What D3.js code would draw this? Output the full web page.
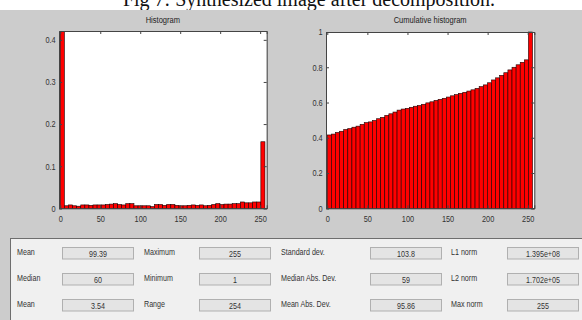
<!DOCTYPE html>
<html>
<head>
<meta charset="utf-8">
<script src="https://cdn.jsdelivr.net/npm/d3@7"></script>
<style>
  body { margin: 0; background: #fff; }
  svg { display: block; }
  .ui { font-family: "Liberation Sans", Arial, sans-serif; }
</style>
</head>
<body>
<svg id="fig" width="582" height="320"></svg>
<script>
// histogram (fraction of pixels per bin, 50 bins over 0..256)
const histValues = [
  0.420, 0.006, 0.008, 0.006, 0.005, 0.008, 0.008, 0.007, 0.008, 0.008,
  0.008, 0.009, 0.010, 0.011, 0.009, 0.008, 0.011, 0.011, 0.006, 0.006,
  0.006, 0.006, 0.004, 0.009, 0.009, 0.007, 0.009, 0.009, 0.007, 0.006,
  0.006, 0.007, 0.008, 0.007, 0.008, 0.006, 0.007, 0.009, 0.011, 0.009,
  0.010, 0.010, 0.011, 0.011, 0.015, 0.013, 0.013, 0.015, 0.015, 0.158
];
// cumulative histogram
const cumValues = [
  0.416, 0.421, 0.430, 0.437, 0.447, 0.452, 0.460, 0.466, 0.476, 0.486,
  0.490, 0.498, 0.508, 0.516, 0.527, 0.536, 0.546, 0.557, 0.563, 0.567,
  0.573, 0.579, 0.583, 0.590, 0.598, 0.604, 0.612, 0.618, 0.624, 0.631,
  0.638, 0.645, 0.652, 0.658, 0.665, 0.672, 0.680, 0.690, 0.700, 0.712,
  0.728, 0.740, 0.754, 0.769, 0.785, 0.800, 0.814, 0.828, 0.842, 1.000
];
const binWidth = 256 / 50;

const xTicks = [0, 50, 100, 150, 200, 250];
const histTicks = [0, 0.1, 0.2, 0.3, 0.4];
const cumTicks = [0, 0.2, 0.4, 0.6, 0.8, 1];

const statLabels = [
  ['Mean', 'Median', 'Mean'],
  ['Maximum', 'Minimum', 'Range'],
  ['Standard dev.', 'Median Abs. Dev.', 'Mean Abs. Dev.'],
  ['L1 norm', 'L2 norm', 'Max norm']
];
const statValues = [
  ['99.39', '60', '3.54'],
  ['255', '1', '254'],
  ['103.8', '59', '95.86'],
  ['1.395e+08', '1.702e+05', '255']
];

const sx = 0.84; // narrow look of the GUI font
const svg = d3.select('#fig');

function narrowText(parent, x, y, str, size, anchor) {
  return parent.append('text')
    .attr('class', 'ui')
    .attr('transform', `translate(${x},${y}) scale(${sx},1)`)
    .attr('text-anchor', anchor || 'start')
    .attr('font-size', size)
    .attr('fill', '#333')
    .text(str);
}

// caption (clipped at the top of the crop, as in the source)
svg.append('text')
  .attr('x', 309).attr('y', 6)
  .attr('text-anchor', 'middle')
  .attr('font-family', '"Liberation Serif", "Times New Roman", serif')
  .attr('font-size', 20)
  .attr('fill', '#111')
  .text('Fig 7: Synthesized image after decomposition.');

// figure background
svg.append('rect')
  .attr('x', 0).attr('y', 10).attr('width', 582).attr('height', 310)
  .attr('fill', '#cccccc');

function drawPanel(opts) {
  const x = d3.scaleLinear().domain([-1.6, 258.2]).range([opts.left, opts.right]);
  const y = d3.scaleLinear().domain([0, opts.yMax]).range([208.3, opts.top]);
  const g = svg.append('g');

  g.append('rect')
    .attr('x', opts.left).attr('y', opts.top)
    .attr('width', opts.right - opts.left).attr('height', 208.3 - opts.top)
    .attr('fill', '#fff');

  g.selectAll('rect.bar').data(opts.values)
    .enter().append('rect')
    .attr('class', 'bar')
    .attr('x', (d, i) => x(i * binWidth))
    .attr('width', (d, i) => x((i + 1) * binWidth) - x(i * binWidth))
    .attr('y', d => y(d))
    .attr('height', d => y(0) - y(d))
    .attr('fill', '#ff0000')
    .attr('stroke', '#1a0000')
    .attr('stroke-width', 0.6);

  const font = g => g.attr('class', 'ui').attr('font-family', null).attr('font-size', 8.8);

  g.append('g').attr('transform', `translate(${opts.left},0)`)
    .call(d3.axisLeft(y).tickValues(opts.yTicks).tickFormat(d3.format('~g')).tickSize(-3).tickPadding(4))
    .call(font);
  g.append('g').attr('transform', `translate(${opts.right},0)`)
    .call(d3.axisRight(y).tickValues(opts.yTicks).tickFormat('').tickSize(-3))
    .call(font);
  g.append('g').attr('transform', 'translate(0,208.3)')
    .call(d3.axisBottom(x).tickValues(xTicks).tickSize(-3).tickPadding(7.5))
    .call(font);
  g.append('g').attr('transform', `translate(0,${opts.top})`)
    .call(d3.axisTop(x).tickValues(xTicks).tickFormat('').tickSize(-3))
    .call(font);
  g.selectAll('.domain').attr('stroke', '#444');
  g.selectAll('.tick line').attr('stroke', '#444');
  g.selectAll('.tick text').attr('fill', '#333').attr('transform', `scale(${sx},1)`);

  narrowText(g, (opts.left + opts.right) / 2, 23, opts.title, 9, 'middle').attr('fill', '#222');
}

drawPanel({ left: 59, right: 266.7, top: 31, yMax: 0.421, values: histValues, yTicks: histTicks, title: 'Histogram' });
drawPanel({ left: 326, right: 534.3, top: 32, yMax: 1, values: cumValues, yTicks: cumTicks, title: 'Cumulative histogram' });

// statistics panel
svg.append('rect')
  .attr('x', 10.5).attr('y', 238.5).attr('width', 600).attr('height', 100)
  .attr('fill', '#f0f0f0')
  .attr('stroke', '#6e6e6e');

const labelX = [17, 144, 281, 451];
const boxX = [62, 199, 370, 507];
const rowY = [247, 273, 299];

statLabels.forEach((col, c) => {
  col.forEach((lab, r) => {
    narrowText(svg, labelX[c], rowY[r] + 8, lab, 8.5);
    svg.append('rect')
      .attr('x', boxX[c] + 0.5).attr('y', rowY[r] + 0.5)
      .attr('width', 71).attr('height', 11.5)
      .attr('fill', '#e4e4e4')
      .attr('stroke', '#b0b0b0');
    narrowText(svg, boxX[c] + 36, rowY[r] + 10, statValues[c][r], 8.5, 'middle');
  });
});
</script>
</body>
</html>
